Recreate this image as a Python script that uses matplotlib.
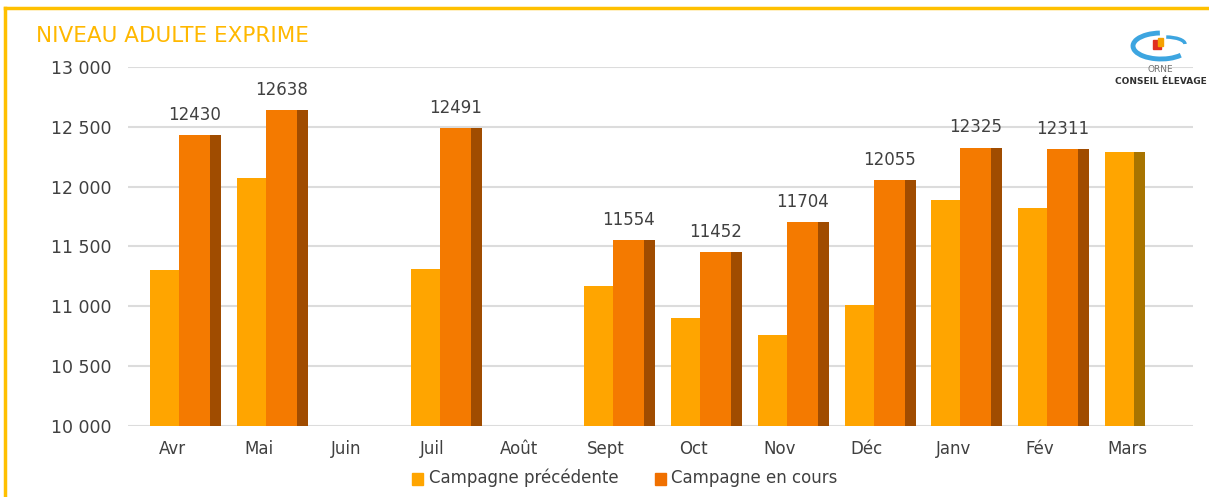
import numpy as np
import matplotlib
matplotlib.use('Agg')
from matplotlib import pyplot as plt
from matplotlib.lines import Line2D
from matplotlib.patches import Arc, Rectangle

months = ['Avr', 'Mai', 'Juin', 'Juil', 'Août', 'Sept', 'Oct', 'Nov', 'Déc', 'Janv', 'Fév', 'Mars']
prev = [11300, 12070, np.nan, 11310, np.nan, 11170, 10900, 10760, 11010, 11890, 11820, 12290]
cur = [12430, 12638, np.nan, 12491, np.nan, 11554, 11452, 11704, 12055, 12325, 12311, np.nan]
yticks = [10000, 10500, 11000, 11500, 12000, 12500, 13000]
ytick_labels = ['10 000', '10 500', '11 000', '11 500', '12 000', '12 500', '13 000']

c_prev = '#FFA500'
c_prev_side = '#A87400'
c_cur = '#F47A00'
c_cur_side = '#A04C00'
txt = '#404040'
base = 10000

fig = plt.figure(figsize=(12.09, 4.97), dpi=100)
ax = fig.add_axes([0.1059, 0.1429, 0.8809, 0.7223])

x = np.arange(len(months))
pv = np.array(prev) - base
cv = np.array(cur) - base

# front width and side depth of the pseudo 3d bars
w = 0.334
d = 0.127
# previous campaign : side first, then front
ax.bar(x + 0.081, pv, width=d, bottom=base, align='edge', color=c_prev_side, zorder=2)
ax.bar(x - 0.253, pv, width=w, bottom=base, align='edge', color=c_prev, zorder=3)
# current campaign
ax.bar(x + 0.438, cv, width=d, bottom=base, align='edge', color=c_cur_side, zorder=4)
ax.bar(x + 0.081, cv, width=w + 0.023, bottom=base, align='edge', color=c_cur, zorder=5)

for i, v in enumerate(cur):
    if not np.isnan(v):
        ax.text(i + 0.26, v + 95, str(v), ha='center', va='bottom', fontsize=12,
                color=txt, clip_on=False, zorder=6)

ax.set_xlim(-0.507, 11.76)
ax.set_ylim(10000, 13000)
ax.set_yticks(yticks)
ax.set_yticklabels(ytick_labels)
ax.set_xticks(x)
ax.set_xticklabels(months)
ax.tick_params(axis='both', length=0, colors=txt)
ax.tick_params(axis='y', pad=12, labelsize=12.5)
ax.tick_params(axis='x', pad=10, labelsize=12)
ax.yaxis.grid(True, color='#dcdcdc', linewidth=1.5, zorder=0)
ax.set_axisbelow(True)
for s in ax.spines.values():
    s.set_visible(False)

# legend
fig.patches.append(Rectangle((412 / 1209, 1 - 485 / 497), 11 / 1209, 12 / 497,
                             transform=fig.transFigure, color=c_prev))
fig.text(429 / 1209, 1 - 478 / 497, 'Campagne précédente', fontsize=12, color=txt, va='center')
fig.patches.append(Rectangle((655 / 1209, 1 - 485 / 497), 11 / 1209, 12 / 497,
                             transform=fig.transFigure, color='#F07000'))
fig.text(671 / 1209, 1 - 478 / 497, 'Campagne en cours', fontsize=12, color=txt, va='center')

# title
fig.text(36 / 1209, 1 - 36 / 497, 'NIVEAU ADULTE EXPRIME', fontsize=15.5, color='#FFB800',
         va='center', ha='left')

# frame
fig.lines.append(Line2D([5 / 1209, 1], [1 - 8 / 497, 1 - 8 / 497], transform=fig.transFigure,
                        color='#FFC000', linewidth=2.5))
fig.lines.append(Line2D([5 / 1209, 5 / 1209], [0, 1 - 8 / 497], transform=fig.transFigure,
                        color='#FFC000', linewidth=2.5))

# logo
lax = fig.add_axes([1125 / 1209, 1 - 64 / 497, 70 / 1209, 40 / 497])
lax.set_xlim(0, 70)
lax.set_ylim(0, 40)
lax.axis('off')
lax.add_patch(Arc((36, 18), 56, 26, theta1=95, theta2=335, color='#3DA5E0', linewidth=3.5))
lax.add_patch(Arc((40, 20), 40, 14, theta1=0, theta2=80, color='#3DA5E0', linewidth=2.5))
lax.add_patch(Rectangle((28, 15), 8, 9, color='#E03020'))
lax.add_patch(Rectangle((33, 18), 5, 8, color='#F5A000'))
fig.text(1160 / 1209, 1 - 69 / 497, 'ORNE', fontsize=6.5, color='#707070', ha='center', va='center')
fig.text(1161 / 1209, 1 - 81 / 497, 'CONSEIL ÉLEVAGE', fontsize=6.5, color='#303030',
         ha='center', va='center', fontweight='bold')

fig.savefig('out.png', dpi=100)
